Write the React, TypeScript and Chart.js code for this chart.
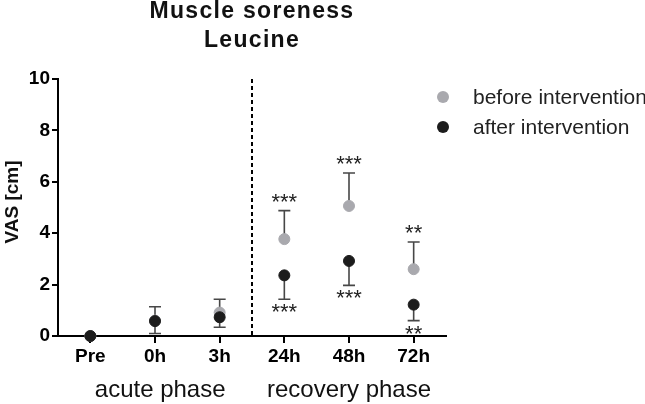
import React, { useEffect, useRef } from "react";
import { Chart, registerables } from "chart.js";

Chart.register(...registerables);

const categories = ["Pre", "0h", "3h", "24h", "48h", "72h"];
const beforeMean = [0, 0.6, 0.91, 3.77, 5.06, 2.6];
const beforeSD = [0, 0.54, 0.52, 1.11, 1.28, 1.06];
const afterMean = [0, 0.58, 0.73, 2.36, 2.92, 1.22];
const afterSD = [0, 0.48, 0.39, 0.93, 0.95, 0.62];
const beforeSig = ["", "", "", "***", "***", "**"];
const afterSig = ["", "", "", "***", "***", "**"];
const phaseLabels = ["acute phase", "recovery phase"];
const phaseCenter = [1.08, 4];
const seriesNames = ["before intervention", "after intervention"];
const titleLines = ["Muscle soreness", "Leucine"];
const yTitle = "VAS [cm]";
const dividerAfterIndex = 2;

const GREY = "#a9a9ae";
const BLACK = "#1c1c1c";
const BAR = "#474747";
const FONT = "'Liberation Sans', Arial, sans-serif";

const overlay = {
  id: "overlay",
  beforeDatasetsDraw(chart: any) {
    const ctx = chart.ctx;
    const x = chart.scales.x;
    const y = chart.scales.y;
    ctx.save();
    ctx.strokeStyle = BAR;
    ctx.lineWidth = 1.6;
    const cap = 6;
    categories.forEach((_, i) => {
      const px = x.getPixelForValue(i);
      if (beforeSD[i] > 0) {
        const y0 = y.getPixelForValue(beforeMean[i]);
        const y1 = y.getPixelForValue(beforeMean[i] + beforeSD[i]);
        ctx.beginPath();
        ctx.moveTo(px, y0);
        ctx.lineTo(px, y1);
        ctx.moveTo(px - cap, y1);
        ctx.lineTo(px + cap, y1);
        ctx.stroke();
      }
      if (afterSD[i] > 0) {
        const y0 = y.getPixelForValue(afterMean[i]);
        const y1 = y.getPixelForValue(afterMean[i] - afterSD[i]);
        ctx.beginPath();
        ctx.moveTo(px, y0);
        ctx.lineTo(px, y1);
        ctx.moveTo(px - cap, y1);
        ctx.lineTo(px + cap, y1);
        ctx.stroke();
      }
    });
    ctx.restore();
  },
  afterDraw(chart: any) {
    const ctx = chart.ctx;
    const x = chart.scales.x;
    const y = chart.scales.y;
    const area = chart.chartArea;
    ctx.save();
    const dx = (x.getPixelForValue(dividerAfterIndex) + x.getPixelForValue(dividerAfterIndex + 1)) / 2;
    ctx.strokeStyle = "#000";
    ctx.lineWidth = 2;
    ctx.setLineDash([4, 3]);
    ctx.beginPath();
    ctx.moveTo(dx, area.top);
    ctx.lineTo(dx, area.bottom);
    ctx.stroke();
    ctx.setLineDash([]);

    const cx = (area.left + area.right) / 2;
    ctx.fillStyle = "#111";
    ctx.textAlign = "center";
    ctx.textBaseline = "alphabetic";
    ctx.font = `bold 23px ${FONT}`;
    (ctx as any).letterSpacing = "1.3px";
    ctx.fillText(titleLines[0], cx, 18);
    ctx.fillText(titleLines[1], cx, 47);
    (ctx as any).letterSpacing = "0px";

    ctx.save();
    ctx.translate(18, 202);
    ctx.rotate(-Math.PI / 2);
    ctx.font = `bold 19px ${FONT}`;
    ctx.textAlign = "center";
    ctx.textBaseline = "alphabetic";
    ctx.fillText(yTitle, 0, 0);
    ctx.restore();

    ctx.font = `24px ${FONT}`;
    ctx.fillStyle = "#111";
    phaseLabels.forEach((lab, k) => {
      const px = x.getPixelForValue(phaseCenter[k]);
      ctx.fillText(lab, px, 397);
    });

    ctx.font = `22px ${FONT}`;
    ctx.fillStyle = "#222";
    categories.forEach((_, i) => {
      const px = x.getPixelForValue(i);
      if (beforeSig[i]) {
        const capY = y.getPixelForValue(beforeMean[i] + beforeSD[i]);
        ctx.fillText(beforeSig[i], px, capY - 11 + 9);
      }
      if (afterSig[i]) {
        const capY = y.getPixelForValue(afterMean[i] - afterSD[i]);
        ctx.fillText(afterSig[i], px, capY + 11 + 9);
      }
    });

    ctx.textAlign = "left";
    ctx.font = `21px ${FONT}`;
    const colors = [GREY, BLACK];
    const ly = [97, 127];
    seriesNames.forEach((name, k) => {
      ctx.fillStyle = colors[k];
      ctx.beginPath();
      ctx.arc(443, ly[k], 6, 0, Math.PI * 2);
      ctx.fill();
      ctx.fillStyle = "#222";
      ctx.fillText(name, 473, ly[k] + 7);
    });
    ctx.restore();
  },
};

export default function App() {
  const ref = useRef<HTMLCanvasElement | null>(null);
  useEffect(() => {
    if (!ref.current) return;
    const chart = new Chart(ref.current, {
      type: "line",
      data: {
        labels: categories,
        datasets: [
          {
            label: seriesNames[0],
            data: beforeMean,
            showLine: false,
            order: 2,
            clip: false,
            pointRadius: 5.5,
            pointBackgroundColor: GREY,
            pointBorderColor: GREY,
            pointBorderWidth: 1,
          },
          {
            label: seriesNames[1],
            data: afterMean,
            showLine: false,
            order: 1,
            clip: false,
            pointRadius: 5.5,
            pointBackgroundColor: BLACK,
            pointBorderColor: BLACK,
            pointBorderWidth: 1,
          },
        ],
      },
      options: {
        responsive: false,
        animation: false,
        devicePixelRatio: 1,
        layout: { padding: { top: 79, right: 199, left: 0, bottom: 0 } },
        plugins: {
          legend: { display: false },
          title: { display: false },
          tooltip: { enabled: false },
        },
        scales: {
          x: {
            type: "category",
            offset: true,
            grid: {
              display: true,
              drawOnChartArea: false,
              drawTicks: true,
              tickLength: 7,
              color: "#000",
              lineWidth: 2,
            },
            border: { display: true, color: "#000", width: 2 },
            ticks: {
              color: "#000",
              font: { family: FONT, size: 19, weight: "bold" },
              padding: 2,
              maxRotation: 0,
            },
            afterFit: (s: any) => {
              s.height = 68;
            },
          },
          y: {
            min: 0,
            max: 10,
            grid: {
              display: true,
              drawOnChartArea: false,
              drawTicks: true,
              tickLength: 6,
              color: "#000",
              lineWidth: 2,
            },
            border: { display: true, color: "#000", width: 2 },
            ticks: {
              stepSize: 2,
              color: "#000",
              font: { family: FONT, size: 19, weight: "bold" },
              padding: 2,
            },
            afterFit: (s: any) => {
              s.width = 58;
            },
          },
        },
      },
      plugins: [overlay],
    });
    return () => chart.destroy();
  }, []);
  return (
    <div style={{ position: "absolute", left: 0, top: 0, width: 645, height: 404, background: "#fff" }}>
      <canvas ref={ref} width={645} height={404} />
    </div>
  );
}
